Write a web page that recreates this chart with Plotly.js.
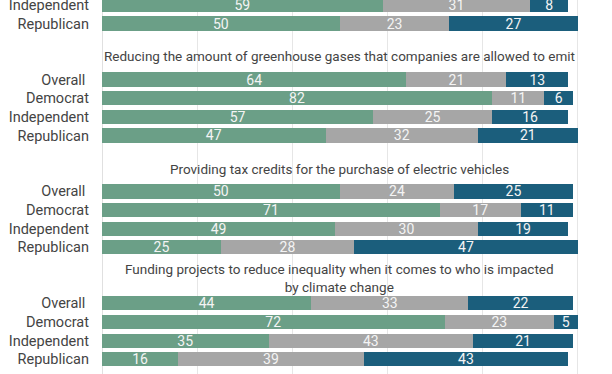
<!DOCTYPE html>
<html>
<head>
<meta charset="utf-8">
<script src="https://cdn.plot.ly/plotly-3.0.1.min.js"></script>
<style>
html,body{margin:0;padding:0;background:#fff;width:612px;height:374px;overflow:hidden;}
#wrap{position:relative;width:612px;height:374px;overflow:hidden;}
#chart{position:absolute;left:0;top:-40px;width:612px;height:414px;}
</style>
</head>
<body>
<div id="wrap"><div id="chart"></div></div>
<script>
// Group titles (first group's title lies above the visible area)
const groupTitles = [
  "",
  "Reducing the amount of greenhouse gases that companies are allowed to emit",
  "Providing tax credits for the purchase of electric vehicles",
  "Funding projects to reduce inequality when it comes to who is impacted<br>by climate change"
];
const rowLabels = ["Overall ", "Democrat", "Independent", "Republican"];

// Visible rows: [group index, row index]
const rowGroup = [0, 0, 1, 1, 1, 1, 2, 2, 2, 2, 3, 3, 3, 3];
const rowIndex = [2, 3, 0, 1, 2, 3, 0, 1, 2, 3, 0, 1, 2, 3];

const favor   = [59, 50, 64, 82, 57, 47, 50, 71, 49, 25, 44, 72, 35, 16];
const neutral = [31, 23, 21, 11, 25, 32, 24, 17, 30, 28, 33, 23, 43, 39];
const oppose  = [ 8, 27, 13,  6, 16, 21, 25, 11, 19, 47, 22,  5, 21, 43];

const groupStep = 6;
const firstGroup = -1;
const ypos = rowGroup.map((g, i) => (g + firstGroup) * groupStep + rowIndex[i]);
const ylabels = rowIndex.map(r => rowLabels[r]);

const colors = ["#6b9f87", "#a6a6a6", "#1b5e7c"];
const series = [favor, neutral, oppose];
const names = ["Favor", "Neither", "Oppose"];

const traces = series.map((vals, k) => ({
  type: "bar",
  orientation: "h",
  x: vals,
  y: ypos,
  name: names[k],
  marker: {color: colors[k], line: {width: 0}},
  text: vals.map(String),
  textposition: "inside",
  insidetextanchor: "middle",
  textangle: 0,
  constraintext: "none",
  textfont: {family: "Roboto, sans-serif", size: 14, color: "#f4f4f4"},
  hoverinfo: "skip",
  showlegend: false
}));

// title offset (in row slots) relative to each group's first row
const titleOffset = [null, -1.27, -1.2, -1.36];
const annotations = [];
groupTitles.forEach((t, g) => {
  if (!t) return;
  annotations.push({
    text: t, x: 50, y: (g + firstGroup) * groupStep + titleOffset[g],
    xref: "x", yref: "y", showarrow: false, align: "center",
    xanchor: "center", yanchor: "middle",
    font: {family: "Roboto, sans-serif", size: 13.5, color: "#444"}
  });
});

const layout = {
  width: 612, height: 414,
  margin: {l: 102, r: 0, t: 0, b: 0, pad: 0},
  paper_bgcolor: "#fff", plot_bgcolor: "#fff",
  barmode: "stack",
  bargap: 0.24,
  font: {family: "Roboto, sans-serif", color: "#444"},
  xaxis: {
    range: [0, 107.2],
    tickvals: [0, 20, 40, 60, 80, 100],
    showticklabels: false,
    showgrid: true, gridcolor: "#e6e6e6", gridwidth: 1,
    zeroline: true, zerolinecolor: "#e0e0e0", zerolinewidth: 1,
    showline: false, fixedrange: true
  },
  yaxis: {
    range: [15.79, -6.408],
    tickvals: ypos, ticktext: ylabels,
    ticks: "", ticklabelstandoff: 12,
    automargin: false,
    tickfont: {family: "Roboto, sans-serif", size: 14.5, color: "#444"},
    showgrid: false, zeroline: false, showline: false, fixedrange: true
  },
  annotations: annotations
};

Plotly.newPlot("chart", traces, layout, {staticPlot: true, displayModeBar: false});
</script>
</body>
</html>
